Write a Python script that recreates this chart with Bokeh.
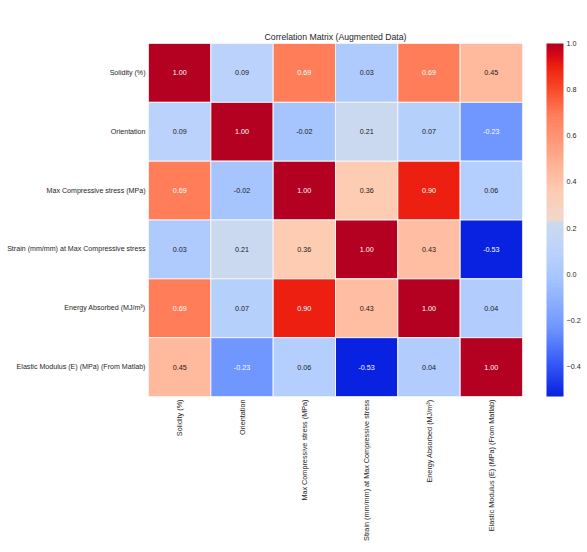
from math import pi

from bokeh.core.properties import value
from bokeh.embed import file_html
from bokeh.models import BasicTicker, ColorBar, ColumnDataSource, CustomJSTickFormatter, FactorRange, LinearColorMapper
from bokeh.plotting import figure
from bokeh.resources import INLINE

LABELS = [
    "Solidity (%)",
    "Orientation",
    "Max Compressive stress (MPa)",
    "Strain (mm/mm) at Max Compressive stress",
    "Energy Absorbed (MJ/m³)",
    "Elastic Modulus (E) (MPa) (From Matlab)",
]
ROW_SOLIDITY = [1.00, 0.09, 0.69, 0.03, 0.69, 0.45]
ROW_ORIENTATION = [0.09, 1.00, -0.02, 0.21, 0.07, -0.23]
ROW_STRESS = [0.69, -0.02, 1.00, 0.36, 0.90, 0.06]
ROW_STRAIN = [0.03, 0.21, 0.36, 1.00, 0.43, -0.53]
ROW_ENERGY = [0.69, 0.07, 0.90, 0.43, 1.00, 0.04]
ROW_MODULUS = [0.45, -0.23, 0.06, -0.53, 0.04, 1.00]
MATRIX = [ROW_SOLIDITY, ROW_ORIENTATION, ROW_STRESS, ROW_STRAIN, ROW_ENERGY, ROW_MODULUS]

VMIN = -0.53
VMAX = 1.00
COLOR_STOPS = [
    (-0.53, (8, 32, 224)),
    (-0.40, (48, 84, 246)),
    (-0.23, (112, 150, 255)),
    (-0.02, (166, 196, 254)),
    (0.09, (186, 210, 252)),
    (0.225, (204, 218, 238)),
    (0.235, (240, 216, 204)),
    (0.36, (254, 204, 178)),
    (0.45, (255, 184, 156)),
    (0.69, (255, 126, 90)),
    (0.82, (246, 66, 36)),
    (0.90, (238, 32, 16)),
    (0.95, (214, 8, 24)),
    (1.00, (178, 0, 34)),
]


def build_palette(count=256):
    colors = []
    for i in range(count):
        v = VMIN + (VMAX - VMIN) * (i + 0.5) / count
        for (a, ca), (b, cb) in zip(COLOR_STOPS, COLOR_STOPS[1:]):
            if a <= v <= b:
                t = (v - a) / (b - a)
                rgb = [round(x + (y - x) * t) for x, y in zip(ca, cb)]
                colors.append("#%02x%02x%02x" % tuple(rgb))
                break
    return colors


xs, ys, vals, texts, text_colors = [], [], [], [], []
for row_label, row in zip(LABELS, MATRIX):
    for col_label, v in zip(LABELS, row):
        xs.append(col_label)
        ys.append(row_label)
        vals.append(v)
        texts.append(f"{v:.2f}")
        text_colors.append("#ffffff" if v > 0.6 or v < -0.2 else "#1a1a1a")

source = ColumnDataSource(dict(x=xs, y=ys, value=vals, label=texts, text_color=text_colors))
mapper = LinearColorMapper(palette=build_palette(), low=VMIN, high=VMAX)

FONT = "Liberation Sans"
p = figure(
    frame_width=374,
    frame_height=353,
    output_backend="svg",
    toolbar_location=None,
    x_range=FactorRange(factors=LABELS),
    y_range=FactorRange(factors=list(reversed(LABELS))),
    title="Correlation Matrix (Augmented Data)",
    min_border_left=148,
    min_border_right=60,
    min_border_top=43,
    min_border_bottom=150,
)
p.rect("x", "y", 1, 1, source=source, fill_color={"field": "value", "transform": mapper},
       line_color="#f4f4f4", line_width=1)
p.text("x", "y", text="label", source=source, text_color="text_color", text_align="center",
       text_baseline="middle", text_font=value(FONT), text_font_size="7.2px")

p.title.align = "center"
p.title.text_font = FONT
p.title.text_font_size = "8.7px"
p.title.text_font_style = "normal"
p.title.text_color = "#262626"
p.title.offset = 0
p.title.standoff = 3

p.grid.visible = False
p.outline_line_color = None
for axis in (p.xaxis[0], p.yaxis[0]):
    axis.axis_line_color = None
    axis.major_tick_line_color = None
    axis.minor_tick_line_color = None
    axis.major_tick_out = 0
    axis.major_tick_in = 0
    axis.major_label_text_font = FONT
    axis.major_label_text_font_size = "7.1px"
    axis.major_label_text_color = "#262626"
    axis.major_label_standoff = 3
p.xaxis[0].major_label_orientation = pi / 2
p.xaxis[0].major_label_text_font_size = "7.25px"

tick_format = CustomJSTickFormatter(
    code="const t = Math.abs(tick) < 1e-9 ? 0 : tick; return t.toFixed(1).replace('-', '\\u2212');"
)

bar = ColorBar(
    color_mapper=mapper,
    ticker=BasicTicker(desired_num_ticks=8),
    formatter=tick_format,
    width=17,
    height=353,
    location=(398, 0),
    padding=0,
    margin=0,
    major_tick_line_color=None,
    minor_tick_line_color=None,
    bar_line_color=None,
    major_label_text_font=FONT,
    major_label_text_font_size="7.2px",
    major_label_text_color="#262626",
    label_standoff=3,
    background_fill_alpha=0,
    border_line_color=None,
)
p.add_layout(bar, "center")

open("out.html", "w").write(file_html(p, INLINE))
